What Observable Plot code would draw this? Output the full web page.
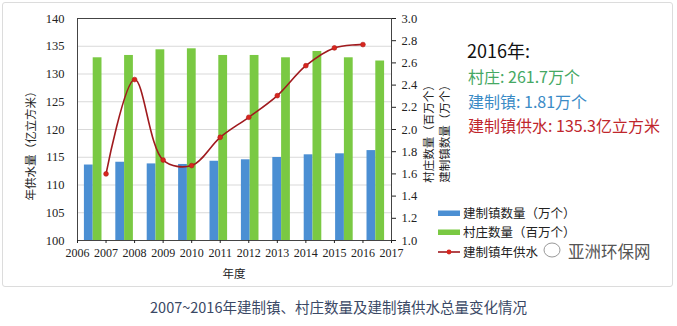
<!DOCTYPE html>
<html><head><meta charset="utf-8">
<script src="https://cdn.jsdelivr.net/npm/d3@7"></script>
<script src="https://cdn.jsdelivr.net/npm/@observablehq/plot@0.6"></script>
<style>
html,body{margin:0;padding:0;background:#fff;}
#wrap{position:relative;width:677px;height:326px;overflow:hidden;font-family:"Noto Sans CJK SC","Noto Sans",sans-serif;}
#box{position:absolute;left:2px;top:2px;width:671px;height:285px;border:1px solid #dcdcdc;border-radius:3px;box-sizing:border-box;}
#chart{position:absolute;left:0;top:0;}
#chart svg, #chart svg g, #chart svg text{font-family:"Liberation Serif","DejaVu Serif",serif !important;}
#over{position:absolute;left:0;top:0;}
#cap{position:absolute;left:0;width:677px;top:296px;text-align:center;font-size:14.5px;color:#3a4865;}
</style></head>
<body>
<div id="wrap"><div id="box"></div><div id="chart"></div><svg id="over" width="677" height="290"></svg>
<div id="cap">2007~2016年建制镇、村庄数量及建制镇供水总量变化情况</div></div>
<script>
const years = [2007, 2008, 2009, 2010, 2011, 2012, 2013, 2014, 2015, 2016];
const villages = [2.646, 2.667, 2.718, 2.727, 2.667, 2.667, 2.646, 2.703, 2.646, 2.617]; // 百万个
const towns = [1.68, 1.705, 1.69, 1.685, 1.714, 1.727, 1.748, 1.772, 1.781, 1.81];     // 万个
const water = [112.0, 129.0, 114.5, 113.5, 118.6, 122.2, 126.1, 131.5, 134.7, 135.3];  // 亿立方米
const xTicks = [2006, 2007, 2008, 2009, 2010, 2011, 2012, 2013, 2014, 2015, 2016, 2017];
const leftTicks = [100, 105, 110, 115, 120, 125, 130, 135, 140];
const rightTicks = [1.0, 1.2, 1.4, 1.6, 1.8, 2.0, 2.2, 2.4, 2.6, 2.8, 3.0];

const toLeft = v => 100 + (v - 1) * 20;
const fromLeft = v => (v - 100) / 20 + 1;
const band = d3.scaleBand().domain(years).range([2006, 2017]);
const bw = band.bandwidth() * 0.28;
const rows = years.map((y, i) => {
  const c = band(y) + band.bandwidth() / 2;
  return {year: y, c, town: towns[i], village: villages[i], water: water[i]};
});

const serif = "Liberation Serif";
const plot = Plot.plot({
  width: 677, height: 290,
  marginLeft: 77, marginRight: 286, marginTop: 18, marginBottom: 50,
  x: {type: "linear", domain: [2006, 2017]},
  y: {domain: [100, 140]},
  style: {fontSize: "12px", color: "#222", background: "transparent"},
  marks: [
    Plot.gridY(leftTicks.slice(1, -1), {stroke: "#d9d9d9", strokeOpacity: 1}),
    Plot.rect(rows, {x1: d => d.c - bw, x2: d => d.c, y1: toLeft(1), y2: d => toLeft(d.town), fill: "#4b8fd3"}),
    Plot.rect(rows, {x1: d => d.c, x2: d => d.c + bw, y1: toLeft(1), y2: d => toLeft(d.village), fill: "#7ac943"}),
    Plot.line(rows, {x: "year", y: "water", curve: "catmull-rom", stroke: "#a01a1e", strokeWidth: 1.6}),
    Plot.dot(rows, {x: "year", y: "water", r: 2.4, fill: "#d8261e", stroke: "#b01a18", strokeWidth: 0.6}),
    Plot.frame({stroke: "#444"}),
    Plot.axisY({anchor: "left", ticks: leftTicks, tickSize: 0, tickPadding: 13, label: null, fontSize: 12.5, fontFamily: serif}),
    Plot.axisY({anchor: "right", ticks: rightTicks.map(toLeft), tickFormat: d => fromLeft(d).toFixed(1), tickSize: 4, tickPadding: 6, label: null, fontSize: 12.5, fontFamily: serif}),
    Plot.axisX({ticks: xTicks, tickFormat: d => String(d), tickSize: 3, tickPadding: 5, label: null, fontSize: 12, fontFamily: serif})
  ]
});
document.getElementById("chart").appendChild(plot);

const svg = d3.select("#over");
const cjk = "'Noto Sans CJK SC','Noto Sans',sans-serif";
function t(x, y, s, opts = {}) {
  const e = svg.append("text").attr("x", x).attr("y", y).text(s)
    .attr("font-family", opts.font || cjk).attr("font-size", opts.size || 12)
    .attr("fill", opts.fill || "#222").attr("text-anchor", opts.anchor || "start");
  if (opts.rotate) e.attr("transform", `rotate(-90 ${x} ${y})`).attr("dominant-baseline", "middle");
  return e;
}
// axis titles
t(32, 143, "年供水量（亿立方米）", {rotate: true, anchor: "middle", size: 11.5});
t(430, 131, "村庄数量（百万个）", {rotate: true, anchor: "middle", size: 11.5});
t(446, 131, "建制镇数量（万个）", {rotate: true, anchor: "middle", size: 11.5});
t(234, 278, "年度", {anchor: "middle", size: 11.5});
// annotation
t(467, 58, "2016年:", {size: 18, fill: "#111"});
t(468, 83, "村庄: 261.7万个", {size: 16, fill: "#45a863"});
t(468, 108, "建制镇: 1.81万个", {size: 16, fill: "#3a8bc6"});
t(468, 132, "建制镇供水: 135.3亿立方米", {size: 16, fill: "#c0262c"});
// legend
svg.append("rect").attr("x", 438).attr("y", 210.5).attr("width", 22).attr("height", 5.5).attr("fill", "#4b8fd3");
svg.append("rect").attr("x", 438).attr("y", 229.5).attr("width", 22).attr("height", 5.5).attr("fill", "#7ac943");
svg.append("line").attr("x1", 438).attr("x2", 460).attr("y1", 252).attr("y2", 252).attr("stroke", "#a01a1e").attr("stroke-width", 1.6);
svg.append("circle").attr("cx", 449).attr("cy", 252).attr("r", 2.4).attr("fill", "#d8261e");
t(463, 217.5, "建制镇数量（万个）", {size: 12.5});
t(463, 236.5, "村庄数量（百万个）", {size: 12.5});
t(463, 256.5, "建制镇年供水", {size: 12.5});
// watermark
svg.append("ellipse").attr("cx", 552).attr("cy", 250).attr("rx", 8).attr("ry", 7).attr("fill", "#fff").attr("stroke", "#999").attr("stroke-width", 1);
t(568, 257.5, "亚洲环保网", {size: 16.5, fill: "#555"});
</script>
</body></html>
